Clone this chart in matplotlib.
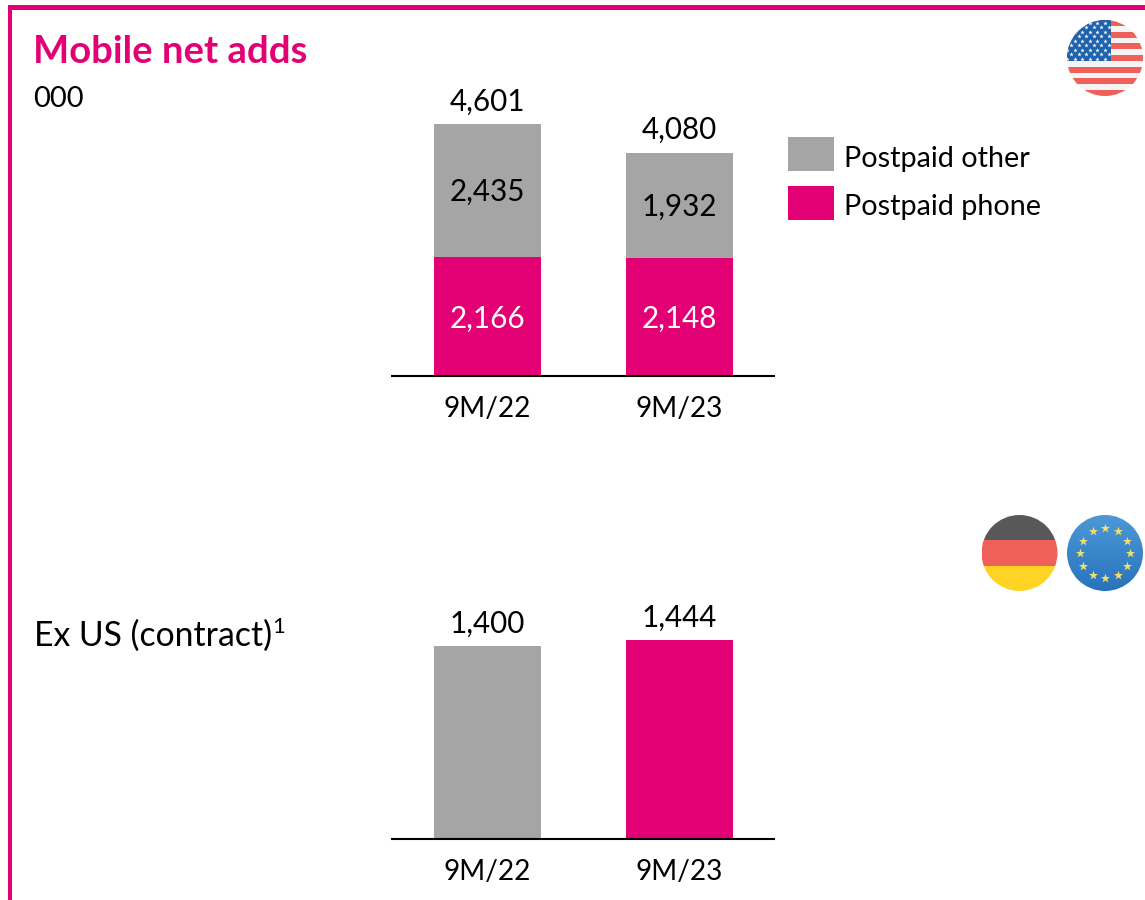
import numpy as np
import matplotlib
matplotlib.use("Agg")
import matplotlib.pyplot as plt
from matplotlib.patches import Circle, Rectangle

W, H = 1145, 900
PINK = "#E20074"
GRAY = "#A5A5A5"

periods = ["9M/22", "9M/23"]
postpaid_phone = [2166, 2148]
postpaid_other = [2435, 1932]
totals = [4601, 4080]
ex_us = [1400, 1444]

plt.rcParams["font.family"] = ["Lato", "DejaVu Sans"]
FS = 21.3
BAR_W = 107 / 192


def px_axes(fig, left, right, top, bottom):
	return fig.add_axes([left / W, 1 - bottom / H, (right - left) / W, (bottom - top) / H])


def setup(ax, ymax):
	ax.set_xlim(-96.5 / 192, 287.5 / 192)
	ax.set_ylim(0, ymax)
	ax.set_xticks(range(len(periods)))
	ax.set_xticklabels(periods, fontsize=20.2)
	ax.set_yticks([])
	ax.tick_params(axis="x", length=0, pad=14.5, colors="black")
	for s in ["top", "left", "right"]:
		ax.spines[s].set_visible(False)
	ax.spines["bottom"].set_linewidth(1.5)
	ax.spines["bottom"].set_capstyle("butt")
	ax.patch.set_alpha(0)


def us_flag(ax, cx, cy, r):
	clip = Circle((cx, cy), r, transform=ax.transData)
	ax.add_patch(Rectangle((cx - r, cy - r), 2 * r, 2 * r, color="#F4F4F4", clip_path=clip))
	stripe = 2 * r / 13
	for i in range(0, 13, 2):
		ax.add_patch(Rectangle((cx - r, cy - r + i * stripe), 2 * r, stripe, color="#F0605A", lw=0, clip_path=clip))
	ax.add_patch(Rectangle((cx - r, cy - r), r + 6, 7 * stripe, color="#1D62AC", lw=0, clip_path=clip))
	for row in range(9):
		xs = np.arange(cx - r + (4 if row % 2 else 0), cx + 5, 7.6)
		y = cy - r + 2.5 + row * 4.5
		pts = ax.scatter(xs, [y] * len(xs), marker="*", s=11, color="white", lw=0, zorder=5)
		pts.set_clip_path(clip)


def de_flag(ax, cx, cy, r):
	clip = Circle((cx, cy), r, transform=ax.transData)
	for i, c in enumerate(["#58585A", "#F0605A", "#FFD324"]):
		ax.add_patch(Rectangle((cx - r, cy - r + i * 2 * r / 3), 2 * r, 2 * r / 3, color=c, lw=0, clip_path=clip))


def eu_flag(ax, cx, cy, r):
	grad = np.linspace(0, 1, 64).reshape(-1, 1)
	top, bottom = np.array([0.30, 0.60, 0.84]), np.array([0.16, 0.45, 0.74])
	img = top + (bottom - top) * grad[..., None]
	im = ax.imshow(img, extent=[cx - r, cx + r, cy + r, cy - r], aspect="auto", zorder=2)
	im.set_clip_path(Circle((cx, cy), r, transform=ax.transData))
	ang = np.arange(12) * np.pi / 6
	ax.scatter(cx + 25 * np.sin(ang), cy - 25 * np.cos(ang), marker="*", s=48, color="#F3DF6E", lw=0, zorder=3)


fig = plt.figure(figsize=(W / 100, H / 100), dpi=100, facecolor="white")

# top chart, net adds US
ax1 = px_axes(fig, 391, 775, 90, 376)
setup(ax1, 286 / 0.05477)
x = np.arange(len(periods))
ax1.bar(x, postpaid_phone, BAR_W, color=PINK, label="Postpaid phone")
ax1.bar(x, postpaid_other, BAR_W, bottom=postpaid_phone, color=GRAY, label="Postpaid other")
for i in x:
	ax1.annotate(f"{postpaid_phone[i]:,}", (i, postpaid_phone[i] / 2), xytext=(0, -1.5), textcoords="offset points", color="white", ha="center", va="center", fontsize=FS)
	ax1.annotate(f"{postpaid_other[i]:,}", (i, postpaid_phone[i] + postpaid_other[i] / 2), xytext=(0, -1), textcoords="offset points", color="black", ha="center", va="center", fontsize=FS)
	ax1.annotate(f"{totals[i]:,}", (i, totals[i]), xytext=(0, 6), textcoords="offset points", ha="center", va="bottom", fontsize=FS)

h, l = ax1.get_legend_handles_labels()
leg = ax1.legend(h[::-1], l[::-1], loc="upper left", bbox_to_anchor=(788 / W, 1 - 137 / H), bbox_transform=fig.transFigure,
	frameon=False, fontsize=20.7, handlelength=1.6, handleheight=1.44, handletextpad=0.35, labelspacing=0.52,
	borderpad=0, borderaxespad=0)
for t in leg.get_texts():
	t.set_y(-3)

# bottom chart, ex US
ax2 = px_axes(fig, 391, 775, 600, 839)
setup(ax2, 239 / 0.13786)
ax2.bar(x, ex_us, BAR_W, color=[GRAY, PINK])
for i in x:
	ax2.annotate(f"{ex_us[i]:,}", (i, ex_us[i]), xytext=(0, 6), textcoords="offset points", ha="center", va="bottom", fontsize=FS)

# overlay in pixel coords: frame, headings, flags
ov = fig.add_axes([0, 0, 1, 1], zorder=-1)
ov.set_xlim(0, W)
ov.set_ylim(H, 0)
ov.axis("off")
ov.add_patch(Rectangle((8, 5), W - 8, 5, color=PINK, lw=0))
ov.add_patch(Rectangle((8, 5), 4, H - 5, color=PINK, lw=0))
ov.text(33, 52, "Mobile net adds", color=PINK, fontsize=27.5, fontweight="bold", va="center", ha="left")
ov.text(33, 99, "000", fontsize=21, va="center", ha="left")
ov.text(34, 636, "Ex US (contract)", fontsize=24.3, va="center", ha="left")
ov.text(272, 627, "1", fontsize=16, va="center", ha="left")

us_flag(ov, 1105, 58, 38)
de_flag(ov, 1019.5, 553, 38)
eu_flag(ov, 1105, 553, 38)
ov.set_xlim(0, W)
ov.set_ylim(H, 0)

fig.savefig("out.png", dpi=100)
plt.close()
